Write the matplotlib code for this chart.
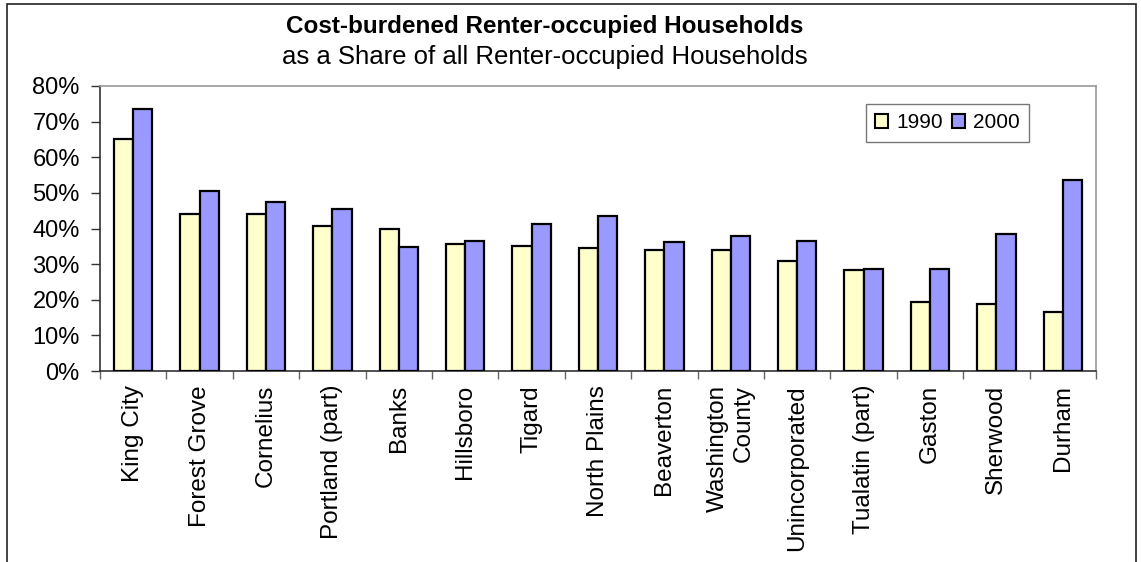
import matplotlib
matplotlib.use("Agg")
import matplotlib.pyplot as plt
from matplotlib.patches import Rectangle
from matplotlib.ticker import FixedLocator, FuncFormatter

plt.rcParams['font.family'] = ['Liberation Sans', 'DejaVu Sans']

categories = ["King City", "Forest Grove", "Cornelius", "Portland (part)", "Banks",
              "Hillsboro", "Tigard", "North Plains", "Beaverton", "Washington\nCounty",
              "Unincorporated", "Tualatin (part)", "Gaston", "Sherwood", "Durham"]
values_1990 = [65.2, 44.0, 44.0, 40.6, 39.9, 35.6, 35.0, 34.4, 33.9, 33.9, 31.0, 28.3, 19.3, 18.7, 16.5]
values_2000 = [73.6, 50.6, 47.3, 45.6, 34.9, 36.6, 41.2, 43.4, 36.1, 37.8, 36.6, 28.7, 28.7, 38.4, 53.5]
series_names = ["1990", "2000"]
yticks = [0, 10, 20, 30, 40, 50, 60, 70, 80]

W, H = 1141, 562
fig = plt.figure(figsize=(W / 100, H / 100), dpi=100)
ax = fig.add_axes([100 / W, 1 - 371 / H, (1096 - 100) / W, (371 - 86) / H])

bw = 0.29
x = list(range(len(categories)))
ax.bar([i - bw / 2 for i in x], values_1990, width=bw, color="#FFFFCC",
       edgecolor="black", linewidth=1.6, label=series_names[0], zorder=3)
ax.bar([i + bw / 2 for i in x], values_2000, width=bw, color="#9999FF",
       edgecolor="black", linewidth=1.6, label=series_names[1], zorder=3)

ax.set_xlim(-0.5, len(categories) - 0.5)
ax.set_ylim(0, 80)
ax.set_yticks(yticks)
ax.yaxis.set_major_formatter(FuncFormatter(lambda v, p: f"{int(v)}%"))
ax.tick_params(axis='y', direction='out', length=6.5, width=1, color='#333333',
               labelsize=17, pad=8)

ax.set_xticks(x)
ax.set_xticklabels(categories, rotation=90, fontsize=17.5, va='top', ha='center',
                   multialignment='right')
ax.tick_params(axis='x', which='major', length=0, pad=10)
ax.xaxis.set_minor_locator(FixedLocator([i - 0.5 for i in range(len(categories) + 1)]))
ax.tick_params(axis='x', which='minor', direction='out', length=5.5, width=1, color='#666666')

for s in ['left', 'bottom']:
    ax.spines[s].set_color('#333333')
    ax.spines[s].set_linewidth(1.2)
for s in ['top', 'right']:
    ax.spines[s].set_color('#999999')
    ax.spines[s].set_linewidth(1.2)

leg = ax.legend(loc='upper left', bbox_to_anchor=((866 - 100) / 996, (371 - 104) / 285),
                ncol=2, fontsize=15, frameon=True, fancybox=False,
                handlelength=0.62, handleheight=0.62, handletextpad=0.4,
                columnspacing=0.4, borderpad=0.45, borderaxespad=0)
leg.get_frame().set_edgecolor('#555555')
leg.get_frame().set_linewidth(1)
for h in leg.legend_handles:
    h.set_linewidth(1.5)

fig.text(545 / W, 1 - 26 / H, "Cost-burdened Renter-occupied Households",
         ha='center', va='center', fontsize=17.5, fontweight='bold')
fig.text(545 / W, 1 - 57 / H, "as a Share of all Renter-occupied Households",
         ha='center', va='center', fontsize=18.5)

fig.patches.append(Rectangle((7 / W, -0.05), (1136 - 7) / W, 1.05 - 4 / H,
                             transform=fig.transFigure, fill=False,
                             edgecolor='#222222', linewidth=1.2))

fig.savefig("out.png", dpi=100)
